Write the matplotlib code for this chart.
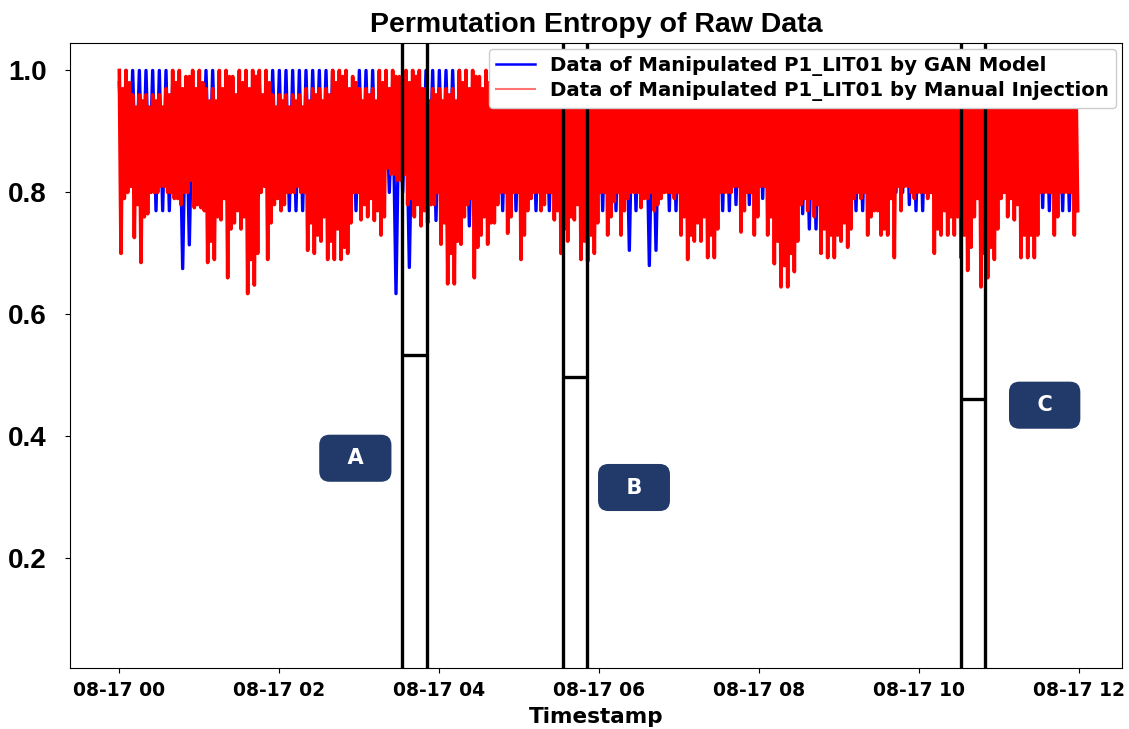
import numpy as np
import pandas as pd
import matplotlib
matplotlib.use("Agg")
import matplotlib.pyplot as plt
import matplotlib.dates as mdates
from matplotlib.lines import Line2D

# permutation entropy (5-minute windows, 00:00 - 12:00)
# red: two peaks and two troughs per window, blue: one of each
red_hi = [1.0, 1.0, 0.96, 0.96, 0.96, 0.96, 0.96, 0.97, 1.0, 1.0, 0.99, 1.0,
          1.0, 0.97, 0.97, 1.0, 1.0, 0.99, 1.0, 1.0, 1.0, 1.0, 1.0, 0.96,
          0.96, 0.96, 0.96, 0.96, 0.97, 0.97, 0.97, 0.97, 1.0, 1.0, 1.0, 0.99,
          0.97, 0.97, 0.97, 1.0, 1.0, 1.0, 0.99, 1.0, 1.0, 1.0, 0.97, 0.97,
          0.97, 0.97, 0.97, 1.0, 1.0, 1.0, 0.99, 1.0, 1.0, 1.0, 1.0, 1.0,
          1.0, 1.0, 0.99, 1.0, 1.0, 1.0, 1.0, 1.0, 0.99, 1.0, 1.0, 1.0,
          1.0, 1.0, 1.0, 0.99, 1.0, 1.0, 1.0, 1.0, 1.0, 0.99, 1.0, 1.0,
          1.0, 1.0, 0.99, 1.0, 1.0, 1.0, 1.0, 1.0, 1.0, 0.99, 1.0, 1.0,
          1.0, 1.0, 1.0, 1.0, 0.99, 1.0, 1.0, 1.0, 1.0, 1.0, 1.0, 1.0,
          0.99, 1.0, 1.0, 1.0, 1.0, 1.0, 1.0, 0.99, 1.0, 1.0, 1.0, 1.0,
          1.0, 1.0, 1.0, 1.0, 0.99, 1.0, 1.0, 1.0, 1.0, 1.0, 1.0, 1.0,
          1.0, 0.99, 1.0, 1.0, 1.0, 1.0, 1.0, 1.0, 0.99, 1.0, 1.0, 0.98]
red_lo = [0.70, 0.80, 0.726, 0.685, 0.765, 0.80, 0.81, 0.80, 0.79, 0.78, 0.80, 0.775,
          0.775, 0.685, 0.69, 0.755, 0.66, 0.75, 0.74, 0.634, 0.648, 0.80, 0.69, 0.78,
          0.77, 0.80, 0.80, 0.80, 0.705, 0.70, 0.72, 0.69, 0.69, 0.69, 0.70, 0.80,
          0.755, 0.76, 0.754, 0.73, 0.84, 0.83, 0.82, 0.78, 0.76, 0.745, 0.75, 0.78,
          0.715, 0.65, 0.65, 0.715, 0.78, 0.66, 0.73, 0.715, 0.75, 0.80, 0.733, 0.80,
          0.69, 0.77, 0.80, 0.77, 0.80, 0.755, 0.70, 0.72, 0.755, 0.69, 0.687, 0.70,
          0.80, 0.73, 0.785, 0.73, 0.79, 0.80, 0.775, 0.79, 0.77, 0.79, 0.80, 0.79,
          0.73, 0.69, 0.72, 0.72, 0.693, 0.693, 0.80, 0.80, 0.81, 0.735, 0.80, 0.73,
          0.81, 0.73, 0.683, 0.645, 0.645, 0.67, 0.78, 0.77, 0.76, 0.70, 0.693, 0.693,
          0.72, 0.71, 0.79, 0.79, 0.73, 0.77, 0.73, 0.73, 0.693, 0.77, 0.81, 0.79,
          0.80, 0.79, 0.70, 0.73, 0.73, 0.73, 0.693, 0.672, 0.76, 0.645, 0.66, 0.69,
          0.79, 0.76, 0.755, 0.693, 0.693, 0.693, 0.80, 0.80, 0.73, 0.80, 0.80, 0.73]
red_hi2 = [0.97, 0.98, 0.94, 0.95, 0.94, 0.95, 0.94, 0.96, 0.98, 0.97, 0.99, 0.97,
           0.98, 0.95, 0.95, 0.97, 0.99, 0.96, 0.98, 0.97, 0.99, 0.96, 0.98, 0.94,
           0.95, 0.94, 0.95, 0.94, 0.95, 0.96, 0.95, 0.96, 0.98, 0.99, 0.97, 0.98,
           0.95, 0.96, 0.95, 0.98, 0.97, 0.99, 0.97, 0.98, 0.99, 0.97, 0.95, 0.96,
           0.95, 0.96, 0.95, 0.98, 0.97, 0.99, 0.97, 0.98, 0.96, 0.99, 0.97, 0.98,
           0.97, 0.99, 0.98, 0.96, 0.99, 0.97, 0.98, 0.99, 0.97, 0.98, 0.96, 0.99,
           0.98, 0.97, 0.99, 0.98, 0.96, 0.98, 0.99, 0.97, 0.98, 0.99, 0.97, 0.98,
           0.99, 0.97, 0.98, 0.96, 0.99, 0.98, 0.97, 0.99, 0.98, 0.97, 0.99, 0.98,
           0.97, 0.99, 0.98, 0.96, 0.98, 0.99, 0.97, 0.98, 0.99, 0.97, 0.98, 0.96,
           0.98, 0.99, 0.97, 0.98, 0.99, 0.96, 0.98, 0.97, 0.99, 0.98, 0.97, 0.99,
           0.98, 0.97, 0.99, 0.98, 0.96, 0.98, 0.99, 0.97, 0.98, 0.99, 0.97, 0.98,
           0.99, 0.97, 0.98, 0.99, 0.96, 0.98, 0.97, 0.99, 0.98, 0.97, 0.99, 0.98]
red_lo2 = [0.79, 0.81, 0.78, 0.76, 0.80, 0.80, 0.81, 0.80, 0.79, 0.80, 0.82, 0.78,
           0.77, 0.72, 0.76, 0.79, 0.74, 0.77, 0.76, 0.69, 0.70, 0.81, 0.75, 0.79,
           0.78, 0.80, 0.81, 0.80, 0.75, 0.73, 0.76, 0.72, 0.74, 0.71, 0.75, 0.80,
           0.78, 0.79, 0.77, 0.76, 0.83, 0.82, 0.83, 0.79, 0.78, 0.77, 0.78, 0.80,
           0.75, 0.70, 0.72, 0.76, 0.79, 0.71, 0.76, 0.75, 0.78, 0.80, 0.76, 0.80,
           0.73, 0.79, 0.80, 0.78, 0.80, 0.77, 0.74, 0.76, 0.78, 0.72, 0.73, 0.75,
           0.80, 0.76, 0.80, 0.77, 0.80, 0.80, 0.79, 0.80, 0.78, 0.80, 0.80, 0.80,
           0.76, 0.73, 0.75, 0.76, 0.73, 0.74, 0.80, 0.80, 0.81, 0.77, 0.80, 0.76,
           0.81, 0.76, 0.72, 0.68, 0.70, 0.72, 0.79, 0.79, 0.78, 0.74, 0.73, 0.73,
           0.75, 0.74, 0.80, 0.80, 0.76, 0.77, 0.74, 0.79, 0.81, 0.81, 0.80, 0.80,
           0.80, 0.80, 0.74, 0.77, 0.76, 0.76, 0.73, 0.71, 0.79, 0.70, 0.71, 0.74,
           0.80, 0.79, 0.78, 0.73, 0.73, 0.73, 0.80, 0.80, 0.76, 0.80, 0.80, 0.77]
blue_hi = [0.98, 1.0, 1.0, 1.0, 1.0, 1.0, 1.0, 1.0, 0.98, 0.98, 0.98, 0.98,
           0.98, 1.0, 1.0, 0.98, 0.98, 0.98, 0.98, 0.98, 0.98, 0.98, 0.98, 1.0,
           1.0, 1.0, 1.0, 1.0, 1.0, 1.0, 1.0, 1.0, 1.0, 0.98, 0.98, 0.98,
           1.0, 1.0, 1.0, 0.98, 0.98, 0.98, 0.98, 0.98, 0.98, 0.98, 1.0, 1.0,
           1.0, 1.0, 1.0, 1.0, 1.0, 0.98, 0.98, 0.98, 0.98, 0.98, 0.98, 0.98,
           0.98, 0.98, 0.98, 0.98, 0.98, 0.98, 0.98, 0.98, 0.98, 0.98, 0.98, 0.98,
           0.98, 0.98, 0.98, 0.98, 0.98, 0.98, 0.98, 0.98, 0.98, 0.98, 0.98, 0.98,
           0.98, 0.98, 0.98, 0.98, 0.98, 0.98, 0.98, 0.98, 0.98, 0.98, 0.98, 0.98,
           0.98, 0.98, 0.98, 0.98, 0.98, 0.98, 0.98, 0.98, 0.98, 0.98, 0.98, 0.98,
           0.98, 0.98, 0.98, 0.98, 0.98, 0.98, 0.98, 0.98, 0.98, 0.98, 0.98, 0.98,
           0.98, 0.98, 0.98, 0.98, 0.98, 0.98, 0.98, 0.98, 0.98, 0.98, 0.98, 0.98,
           0.98, 0.98, 0.98, 0.98, 0.98, 0.98, 0.98, 0.98, 0.98, 0.98, 0.98, 0.98]
blue_lo = [0.80, 0.82, 0.80, 0.80, 0.80, 0.77, 0.77, 0.77, 0.80, 0.675, 0.714, 0.80,
           0.80, 0.80, 0.80, 0.80, 0.80, 0.80, 0.80, 0.80, 0.80, 0.82, 0.80, 0.80,
           0.80, 0.77, 0.77, 0.77, 0.80, 0.815, 0.80, 0.80, 0.80, 0.80, 0.80, 0.77,
           0.80, 0.80, 0.78, 0.80, 0.80, 0.634, 0.80, 0.677, 0.80, 0.80, 0.80, 0.754,
           0.80, 0.80, 0.80, 0.80, 0.745, 0.80, 0.80, 0.80, 0.80, 0.77, 0.80, 0.77,
           0.80, 0.80, 0.77, 0.80, 0.77, 0.80, 0.80, 0.80, 0.80, 0.80, 0.80, 0.80,
           0.77, 0.80, 0.77, 0.80, 0.705, 0.77, 0.80, 0.68, 0.705, 0.80, 0.77, 0.77,
           0.80, 0.80, 0.80, 0.80, 0.80, 0.80, 0.77, 0.77, 0.78, 0.80, 0.78, 0.80,
           0.79, 0.80, 0.80, 0.80, 0.80, 0.80, 0.765, 0.74, 0.74, 0.80, 0.80, 0.80,
           0.80, 0.80, 0.77, 0.77, 0.80, 0.80, 0.80, 0.80, 0.80, 0.80, 0.78, 0.77,
           0.77, 0.80, 0.80, 0.80, 0.80, 0.80, 0.80, 0.80, 0.80, 0.80, 0.80, 0.80,
           0.80, 0.80, 0.80, 0.80, 0.80, 0.80, 0.775, 0.77, 0.80, 0.77, 0.77, 0.80]

# attack windows (start, end, marker level) and their labels
win_start = ["2022-08-17 03:32", "2022-08-17 05:33", "2022-08-17 10:31"]
win_end = ["2022-08-17 03:51", "2022-08-17 05:51", "2022-08-17 10:49"]
win_level = [0.533, 0.497, 0.461]
labels = ["A", "B", "C"]
label_time = ["2022-08-17 02:57", "2022-08-17 06:26", "2022-08-17 11:34"]
label_y = [0.364, 0.316, 0.451]

t_red = pd.date_range("2022-08-17 00:00", periods=4 * len(red_hi), freq="75s")
t_blue = pd.date_range("2022-08-17 00:00", periods=2 * len(blue_hi), freq="150s")
red = np.column_stack([red_hi, red_lo, red_hi2, red_lo2]).ravel()
blue = np.column_stack([blue_hi, blue_lo]).ravel()

fig = plt.figure(figsize=(11.29, 7.29), dpi=100)
ax = fig.add_axes([0.062, 0.0837, 0.9318, 0.8573])

ax.plot(t_blue, blue, color="blue", lw=2.4)
ax.plot(t_red, red, color="red", lw=2.6)

for s, e, lv in zip(win_start, win_end, win_level):
    s, e = pd.Timestamp(s), pd.Timestamp(e)
    ax.axvline(s, color="black", lw=2.4)
    ax.axvline(e, color="black", lw=2.4)
    ax.hlines(lv, s, e, color="black", lw=2.4)

for lab, lt, ly in zip(labels, label_time, label_y):
    ax.text(pd.Timestamp(lt), ly, "  " + lab + "  ", color="white", fontsize=15,
            fontweight="bold", ha="center", va="center",
            bbox=dict(boxstyle="round,pad=0.65,rounding_size=0.5", fc="#223a6a", ec="none"))

ax.set_xlim(pd.Timestamp("2022-08-17 00:00") - pd.Timedelta(minutes=37),
            pd.Timestamp("2022-08-17 12:32"))
ax.set_ylim(0.02, 1.045)
ax.set_yticks([0.2, 0.4, 0.6, 0.8, 1.0])
ax.xaxis.set_major_locator(mdates.HourLocator(byhour=range(0, 24, 2)))
ax.xaxis.set_major_formatter(mdates.DateFormatter("%m-%d %H"))
ax.tick_params(axis="y", pad=13.5)
ax.tick_params(axis="x", pad=6)
for lb in ax.get_yticklabels():
    lb.set_fontfamily(["Liberation Sans", "DejaVu Sans"])
    lb.set_fontweight("bold")
    lb.set_fontsize(20)
for lb in ax.get_xticklabels():
    lb.set_fontweight("bold")
    lb.set_fontsize(13.5)

ax.set_title("Permutation Entropy of Raw Data", fontsize=20.5, fontweight="bold",
             family=["Liberation Sans", "DejaVu Sans"], pad=8)
ax.set_xlabel("Timestamp", fontsize=15.5, fontweight="bold", labelpad=5)

handles = [Line2D([], [], color="blue", lw=1.8),
           Line2D([], [], color="red", lw=1.5, alpha=0.55)]
ax.legend(handles, ["Data of Manipulated P1_LIT01 by GAN Model",
                    "Data of Manipulated P1_LIT01 by Manual Injection"],
          loc="upper right", prop={"weight": "bold", "size": 14.2},
          borderaxespad=0.3, handlelength=1.95, labelspacing=0.27,
          borderpad=0.35, framealpha=1)

fig.savefig("out.png", dpi=100)
